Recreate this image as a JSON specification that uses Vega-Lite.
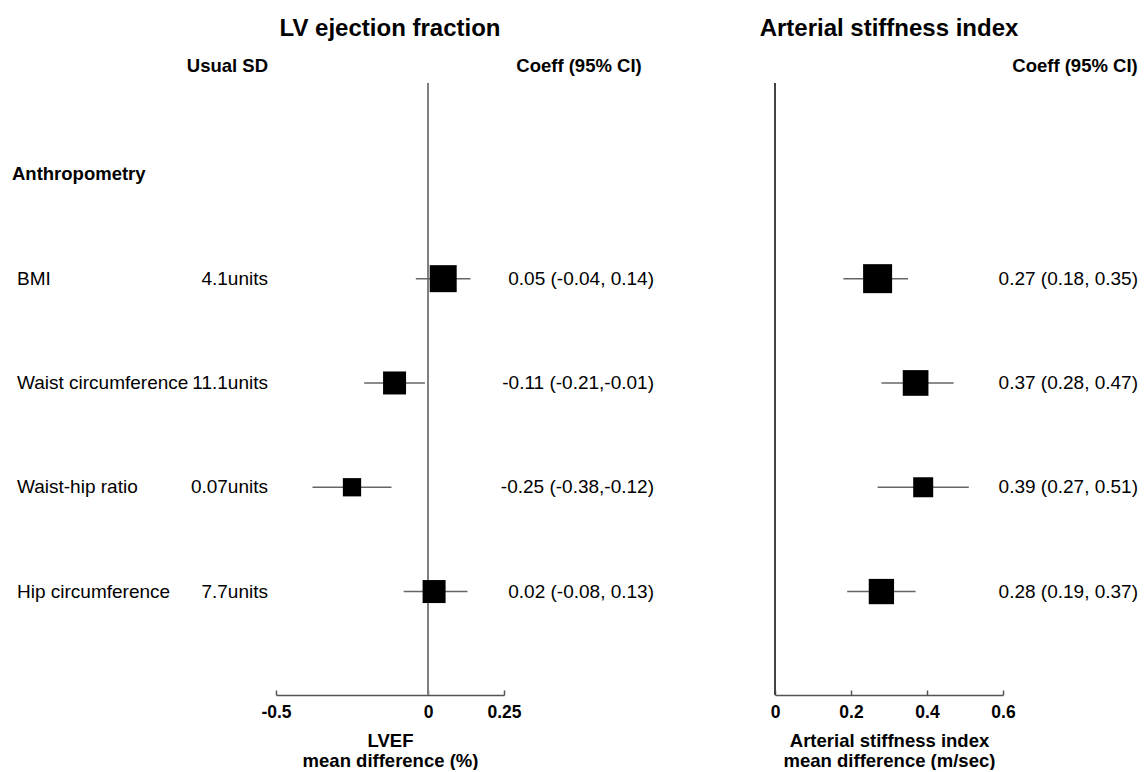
{
  "$schema": "https://vega.github.io/schema/vega-lite/v6.json",
  "padding": {"left": 12, "top": 17, "right": 5, "bottom": 0},
  "config": {
    "font": "Liberation Sans",
    "view": {"stroke": null},
    "title": {"color": "black", "fontWeight": "bold", "frame": "group"},
    "text": {"color": "black"}
  },
  "datasets": {
    "rows": [
      {"label": "Anthropometry", "kind": "header"},
      {"label": "BMI", "kind": "item", "sd": "4.1units", "lv": 0.05, "lv_lo": -0.04, "lv_hi": 0.14, "lv_w": 486, "lv_txt": "0.05 (-0.04, 0.14)", "asi": 0.27, "asi_lo": 0.18, "asi_hi": 0.35, "asi_w": 561, "asi_txt": "0.27 (0.18, 0.35)"},
      {"label": "Waist circumference", "kind": "item", "sd": "11.1units", "lv": -0.11, "lv_lo": -0.21, "lv_hi": -0.01, "lv_w": 353, "lv_txt": "-0.11 (-0.21,-0.01)", "asi": 0.37, "asi_lo": 0.28, "asi_hi": 0.47, "asi_w": 440, "asi_txt": "0.37 (0.28, 0.47)"},
      {"label": "Waist-hip ratio", "kind": "item", "sd": "0.07units", "lv": -0.25, "lv_lo": -0.38, "lv_hi": -0.12, "lv_w": 223, "lv_txt": "-0.25 (-0.38,-0.12)", "asi": 0.39, "asi_lo": 0.27, "asi_hi": 0.51, "asi_w": 267, "asi_txt": "0.39 (0.27, 0.51)"},
      {"label": "Hip circumference", "kind": "item", "sd": "7.7units", "lv": 0.02, "lv_lo": -0.08, "lv_hi": 0.13, "lv_w": 353, "lv_txt": "0.02 (-0.08, 0.13)", "asi": 0.28, "asi_lo": 0.19, "asi_hi": 0.37, "asi_w": 427, "asi_txt": "0.28 (0.19, 0.37)"}
    ]
  },
  "data": {"name": "rows"},
  "spacing": 105,
  "hconcat": [
    {
      "bounds": "flush",
      "spacing": 8,
      "hconcat": [
        {
          "width": 256,
          "height": 612,
          "title": {"text": "Usual SD", "anchor": "end", "fontSize": 18.5, "offset": 8},
          "layer": [
            {
              "transform": [{"filter": "datum.kind === 'header'"}],
              "mark": {"type": "text", "align": "left", "baseline": "middle", "fontSize": 18.5, "fontWeight": "bold"},
              "encoding": {
                "x": {"datum": 0, "type": "quantitative", "scale": {"domain": [0, 1]}, "axis": null},
                "y": {"field": "label", "type": "nominal", "axis": null, "scale": {"type": "point", "domain": ["Anthropometry", "BMI", "Waist circumference", "Waist-hip ratio", "Hip circumference"], "padding": 0.934, "align": 0.469}},
                "text": {"field": "label"}
              }
            },
            {
              "transform": [{"filter": "datum.kind === 'item'"}],
              "mark": {"type": "text", "align": "left", "baseline": "middle", "fontSize": 19, "dx": 5},
              "encoding": {
                "x": {"datum": 0, "type": "quantitative", "scale": {"domain": [0, 1]}, "axis": null},
                "y": {"field": "label", "type": "nominal", "axis": null, "scale": {"type": "point", "domain": ["Anthropometry", "BMI", "Waist circumference", "Waist-hip ratio", "Hip circumference"], "padding": 0.934, "align": 0.469}},
                "text": {"field": "label"}
              }
            },
            {
              "transform": [{"filter": "datum.kind === 'item'"}],
              "mark": {"type": "text", "align": "right", "baseline": "middle", "fontSize": 19},
              "encoding": {
                "x": {"datum": 1, "type": "quantitative", "scale": {"domain": [0, 1]}, "axis": null},
                "y": {"field": "label", "type": "nominal", "axis": null, "scale": {"type": "point", "domain": ["Anthropometry", "BMI", "Waist circumference", "Waist-hip ratio", "Hip circumference"], "padding": 0.934, "align": 0.469}},
                "text": {"field": "sd"}
              }
            }
          ]
        },
        {
          "bounds": "flush",
          "spacing": 0,
          "hconcat": [
            {
              "width": 228,
              "height": 612,
              "title": {"text": "LV ejection fraction", "anchor": "middle", "fontSize": 24, "offset": 41},
              "layer": [
                {
                  "mark": {"type": "rule", "color": "#808080", "strokeWidth": 2},
                  "encoding": {
                    "x": {"datum": 0, "type": "quantitative", "scale": {"domain": [-0.5, 0.25], "nice": false, "zero": false},
                      "axis": {"values": [-0.5, 0, 0.25], "labelExpr": "toString(datum.value)", "grid": false, "domainColor": "#555", "domainWidth": 1.5, "tickColor": "#555", "tickWidth": 1.5, "tickSize": -5, "labelFontSize": 17.5, "labelFontWeight": "bold", "labelColor": "black", "labelPadding": 13, "labelFlush": false, "labelOverlap": false, "title": ["LVEF", "mean difference (%)"], "titleFontSize": 18.5, "titleFontWeight": "bold", "titleColor": "black", "titlePadding": 11, "titleLineHeight": 20}}
                  }
                },
                {
                  "transform": [{"filter": "isValid(datum.lv)"}],
                  "mark": {"type": "rule", "color": "#666", "strokeWidth": 1.5},
                  "encoding": {
                    "y": {"field": "label", "type": "nominal", "axis": null, "scale": {"type": "point", "domain": ["Anthropometry", "BMI", "Waist circumference", "Waist-hip ratio", "Hip circumference"], "padding": 0.934, "align": 0.469}},
                    "x": {"field": "lv_lo", "type": "quantitative", "title": ["LVEF", "mean difference (%)"]},
                    "x2": {"field": "lv_hi"}
                  }
                },
                {
                  "transform": [{"filter": "isValid(datum.lv)"}],
                  "mark": {"type": "square", "filled": true, "color": "black", "opacity": 1},
                  "encoding": {
                    "y": {"field": "label", "type": "nominal", "axis": null, "scale": {"type": "point", "domain": ["Anthropometry", "BMI", "Waist circumference", "Waist-hip ratio", "Hip circumference"], "padding": 0.934, "align": 0.469}},
                    "x": {"field": "lv", "type": "quantitative", "title": ["LVEF", "mean difference (%)"]},
                    "size": {"field": "lv_w", "type": "quantitative", "scale": {"domain": [0, 1000], "range": [0, 1500]}, "legend": null}
                  }
                }
              ]
            },
            {
              "width": 150,
              "height": 612,
              "title": {"text": "Coeff (95% CI)", "anchor": "middle", "fontSize": 18.5, "offset": 8},
              "transform": [{"filter": "isValid(datum.lv_txt)"}],
              "mark": {"type": "text", "align": "right", "baseline": "middle", "fontSize": 19},
              "encoding": {
                "x": {"datum": 1, "type": "quantitative", "scale": {"domain": [0, 1]}, "axis": null},
                "y": {"field": "label", "type": "nominal", "axis": null, "scale": {"type": "point", "domain": ["Anthropometry", "BMI", "Waist circumference", "Waist-hip ratio", "Hip circumference"], "padding": 0.934, "align": 0.469}},
                "text": {"field": "lv_txt"}
              }
            }
          ]
        }
      ]
    },
    {
      "bounds": "flush",
      "spacing": 9,
      "hconcat": [
        {
          "width": 228,
          "height": 612,
          "title": {"text": "Arterial stiffness index", "anchor": "middle", "fontSize": 24, "offset": 41},
          "layer": [
            {
              "mark": {"type": "rule", "color": "#444", "strokeWidth": 1.5},
              "encoding": {
                "x": {"datum": 0, "type": "quantitative", "scale": {"domain": [0, 0.6], "nice": false, "zero": false},
                  "axis": {"values": [0, 0.2, 0.4, 0.6], "labelExpr": "toString(datum.value)", "grid": false, "domainColor": "#555", "domainWidth": 1.5, "tickColor": "#555", "tickWidth": 1.5, "tickSize": -5, "labelFontSize": 17.5, "labelFontWeight": "bold", "labelColor": "black", "labelPadding": 13, "labelFlush": false, "labelOverlap": false, "title": ["Arterial stiffness index", "mean difference (m/sec)"], "titleFontSize": 18.5, "titleFontWeight": "bold", "titleColor": "black", "titlePadding": 11, "titleLineHeight": 20}}
              }
            },
            {
              "transform": [{"filter": "isValid(datum.asi)"}],
              "mark": {"type": "rule", "color": "#666", "strokeWidth": 1.5},
              "encoding": {
                "y": {"field": "label", "type": "nominal", "axis": null, "scale": {"type": "point", "domain": ["Anthropometry", "BMI", "Waist circumference", "Waist-hip ratio", "Hip circumference"], "padding": 0.934, "align": 0.469}},
                "x": {"field": "asi_lo", "type": "quantitative", "title": ["Arterial stiffness index", "mean difference (m/sec)"]},
                "x2": {"field": "asi_hi"}
              }
            },
            {
              "transform": [{"filter": "isValid(datum.asi)"}],
              "mark": {"type": "square", "filled": true, "color": "black", "opacity": 1},
              "encoding": {
                "y": {"field": "label", "type": "nominal", "axis": null, "scale": {"type": "point", "domain": ["Anthropometry", "BMI", "Waist circumference", "Waist-hip ratio", "Hip circumference"], "padding": 0.934, "align": 0.469}},
                "x": {"field": "asi", "type": "quantitative", "title": ["Arterial stiffness index", "mean difference (m/sec)"]},
                "size": {"field": "asi_w", "type": "quantitative", "scale": {"domain": [0, 1000], "range": [0, 1500]}, "legend": null}
              }
            }
          ]
        },
        {
          "width": 126,
          "height": 612,
          "title": {"text": "Coeff (95% CI)", "anchor": "middle", "fontSize": 18.5, "offset": 8},
          "transform": [{"filter": "isValid(datum.asi_txt)"}],
          "mark": {"type": "text", "align": "right", "baseline": "middle", "fontSize": 19},
          "encoding": {
            "x": {"datum": 1, "type": "quantitative", "scale": {"domain": [0, 1]}, "axis": null},
            "y": {"field": "label", "type": "nominal", "axis": null, "scale": {"type": "point", "domain": ["Anthropometry", "BMI", "Waist circumference", "Waist-hip ratio", "Hip circumference"], "padding": 0.934, "align": 0.469}},
            "text": {"field": "asi_txt"}
          }
        }
      ]
    }
  ]
}
